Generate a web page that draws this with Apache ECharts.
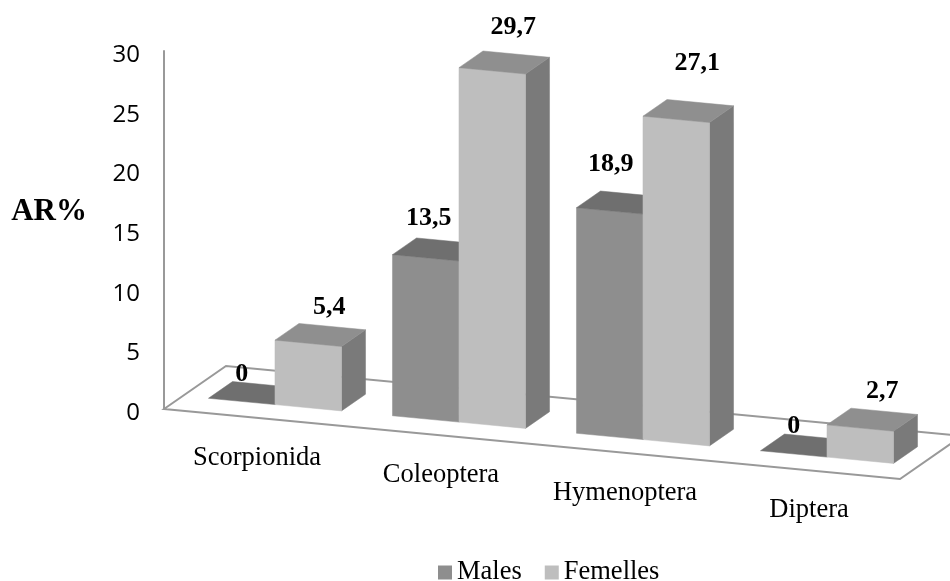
<!DOCTYPE html>
<html>
<head>
<meta charset="utf-8">
<style>html,body{margin:0;padding:0;background:#fff}#c{width:950px;height:581px}</style>
<script src="https://cdn.jsdelivr.net/npm/echarts@6/dist/echarts.min.js"></script>
</head>
<body>
<div id="c"></div>
<script>
const categories = ['Scorpionida', 'Coleoptera', 'Hymenoptera', 'Diptera'];
const males = [0, 13.5, 18.9, 0];
const femelles = [5.4, 29.7, 27.1, 2.7];
const maleLabels = ['0', '13,5', '18,9', '0'];
const femaleLabels = ['5,4', '29,7', '27,1', '2,7'];
const yTicks = { min: 0, max: 30, interval: 5 };

// Oblique projection of the floor
const SLOPE = 0.0951, DX = 62, DY = 43;
const FRONT = 0.306, BACK = 0.694, BAR = 66.5 / 184;
const SERIF = '"Liberation Serif","Times New Roman",serif';
const maleOffsets = [[0, -27], [3, -40], [1, -47], [0, -28]];
const femaleOffsets = [[21, -36], [21, -44], [21, -56], [22, -37]];

function project(api, cat, val, band, depth) {
  const c = api.coord([cat, val]);
  const w = api.size([1, 0])[0];
  const origin = api.coord([0, 0])[0] - w / 2;
  const x = c[0] + band * w;
  return [x + depth * DX, c[1] + (x - origin) * SLOPE - depth * DY];
}
function poly(points, fill) {
  return { type: 'polygon', shape: { points }, style: { fill, stroke: fill, lineWidth: 0.5 } };
}
function barRenderer(from, front, top, side) {
  return function (params, api) {
    const cat = api.value(0), v = api.value(1), to = from + BAR;
    const p = (b, val, d) => project(api, cat, val, b, d);
    const children = [];
    if (v > 0) {
      children.push(poly([p(to, 0, FRONT), p(to, 0, BACK), p(to, v, BACK), p(to, v, FRONT)], side));
      children.push(poly([p(from, 0, FRONT), p(to, 0, FRONT), p(to, v, FRONT), p(from, v, FRONT)], front));
    }
    children.push(poly([p(from, v, FRONT), p(to, v, FRONT), p(to, v, BACK), p(from, v, BACK)], top));
    return { type: 'group', children };
  };
}
function floorRenderer(params, api) {
  const n = categories.length;
  const a = (b, d) => project(api, 0, 0, b, d);
  const line = { stroke: '#999999', lineWidth: 2, fill: 'none' };
  return { type: 'polygon', shape: { points: [a(-0.5, 0), a(-0.5, 1), a(n - 0.5, 1), a(n - 0.5, 0)] }, style: line };
}
function catLabelRenderer(params, api) {
  const i = api.value(0);
  const p = project(api, i, 0, 0, 0);
  return { type: 'text', style: { text: categories[i], x: p[0] + 1, y: p[1] + 40, align: 'center', verticalAlign: 'middle', font: '26.5px ' + SERIF, fill: '#000' } };
}
function valueLabelRenderer(values, texts, offsets, from) {
  return function (params, api) {
    const i = api.value(0);
    const p = project(api, i, values[i], from + BAR / 2, FRONT);
    return { type: 'text', style: { text: texts[i], x: p[0] + offsets[i][0], y: p[1] + offsets[i][1], align: 'center', verticalAlign: 'middle', font: 'bold 26px ' + SERIF, fill: '#000' } };
  };
}
const idx = categories.map((c, i) => [i]);
const custom = (extra) => Object.assign({ type: 'custom', clip: false, silent: true, animation: false, encode: { x: 0, y: 1 } }, extra);

const chart = echarts.init(document.getElementById('c'), null, { renderer: 'canvas' });
chart.setOption({
  animation: false,
  backgroundColor: '#fff',
  grid: { left: 164, top: 51, width: 736, height: 358, outerBoundsMode: 'none' },
  legend: {
    data: ['Males', 'Femelles'], left: 433, top: 554, itemWidth: 14, itemHeight: 14, itemGap: 23,
    icon: 'rect', selectedMode: false,
    textStyle: { fontFamily: SERIF, fontSize: 26.5, color: '#000' }
  },
  xAxis: { type: 'category', data: categories, axisLine: { show: false }, axisTick: { show: false }, axisLabel: { show: false }, splitLine: { show: false } },
  yAxis: {
    type: 'value', min: yTicks.min, max: yTicks.max, interval: yTicks.interval,
    name: 'AR%', nameLocation: 'middle', nameRotate: 0, nameGap: 77,
    nameTextStyle: { fontFamily: SERIF, fontWeight: 'bold', fontSize: 31, color: '#000', verticalAlign: 'bottom', lineHeight: 36 },
    axisLine: { show: true, lineStyle: { color: '#999999', width: 2 } },
    axisTick: { show: false }, splitLine: { show: false },
    axisLabel: { margin: 24, fontFamily: '"Open Sans"', fontSize: 24, color: '#000', verticalAlign: 'top', lineHeight: 8 }
  },
  series: [
    custom({ name: 'floor', data: [[0, 0]], renderItem: floorRenderer, z: 1 }),
    custom({ name: 'Males', data: categories.map((c, i) => [i, males[i]]), itemStyle: { color: '#8e8e8e' }, renderItem: barRenderer(-BAR, '#8e8e8e', '#6f6f6f', '#6f6f6f'), z: 2 }),
    custom({ name: 'Femelles', data: categories.map((c, i) => [i, femelles[i]]), itemStyle: { color: '#bebebe' }, renderItem: barRenderer(0, '#bebebe', '#8f8f8f', '#7a7a7a'), z: 3 }),
    custom({ name: 'catLabels', data: idx, renderItem: catLabelRenderer, z: 4 }),
    custom({ name: 'maleLabels', data: idx, renderItem: valueLabelRenderer(males, maleLabels, maleOffsets, -BAR), z: 5 }),
    custom({ name: 'femaleLabels', data: idx, renderItem: valueLabelRenderer(femelles, femaleLabels, femaleOffsets, 0), z: 5 })
  ]
});
</script>
</body>
</html>
